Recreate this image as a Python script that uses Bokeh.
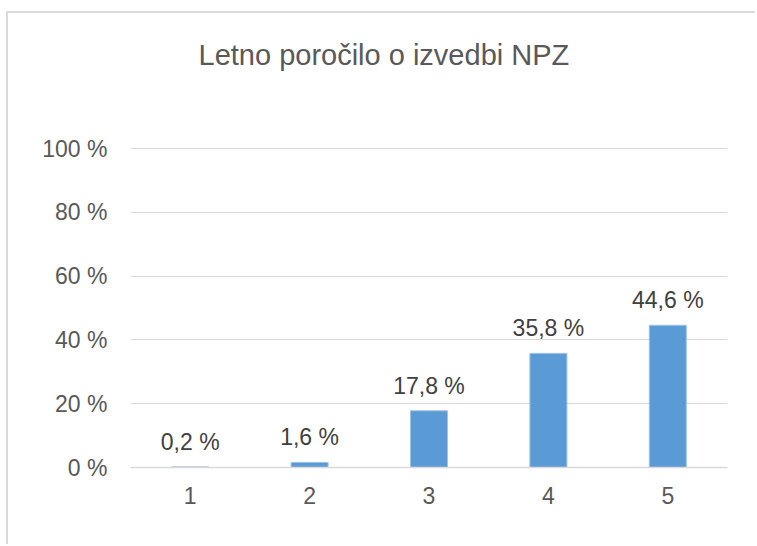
from bokeh.plotting import figure
from bokeh.models import ColumnDataSource, FactorRange, Range1d, FixedTicker, LabelSet, Title
from bokeh.core.properties import value
from bokeh.embed import file_html
from bokeh.resources import INLINE

title_text = "Letno poročilo o izvedbi NPZ"
categories = ["1", "2", "3", "4", "5"]
values = [0.2, 1.6, 17.8, 35.8, 44.6]
y_ticks = [0, 20, 40, 60, 80, 100]
y_tick_labels = ["0 %", "20 %", "40 %", "60 %", "80 %", "100 %"]

labels = [("%.1f" % v).replace(".", ",") + " %" for v in values]
src = ColumnDataSource(dict(x=categories, y=values, lab=labels))

FONT = "Liberation Sans"
GRID = "#d9d9d9"

p = figure(width=749, height=533, output_backend="svg", toolbar_location=None,
           x_range=FactorRange(*categories, range_padding=0), y_range=Range1d(0, 101),
           min_border_left=122, min_border_right=30, min_border_top=132, min_border_bottom=79,
           title=None)
p.outline_line_color = None
p.background_fill_color = "white"
p.border_fill_color = "white"

title = Title(text=title_text, text_font=FONT, text_font_size="29px", text_font_style="normal",
              text_color="#595959", align="left", offset=68)
spacer = Title(text=" ", text_font=FONT, text_font_size="52px")
p.above = [spacer, title]

p.vbar(x="x", top="y", width=0.31, source=src, fill_color="#5b9bd5", line_color="#9dc3e6", line_width=1)

p.add_layout(LabelSet(x="x", y="y", text="lab", source=src, text_align="center",
                      text_baseline="alphabetic", y_offset=17, text_font=value(FONT),
                      text_font_size=value("23px"), text_color=value("#404040")))

p.xgrid.grid_line_color = None
p.ygrid.grid_line_color = GRID
p.ygrid.grid_line_width = 1
p.ygrid.ticker = FixedTicker(ticks=y_ticks)

p.yaxis.ticker = FixedTicker(ticks=y_ticks)
p.yaxis.major_label_overrides = {t: l for t, l in zip(y_ticks, y_tick_labels)}
p.yaxis.axis_line_color = None
p.yaxis.major_tick_line_color = None
p.yaxis.minor_tick_line_color = None
p.yaxis.major_label_standoff = 17
p.yaxis.major_label_text_font = FONT
p.yaxis.major_label_text_font_size = "23px"
p.yaxis.major_label_text_color = "#595959"

p.xaxis.axis_line_color = GRID
p.xaxis.axis_line_width = 1.5
p.xaxis.major_tick_line_color = None
p.xaxis.minor_tick_line_color = None
p.xaxis.major_label_standoff = 13
p.xaxis.major_label_text_font = FONT
p.xaxis.major_label_text_font_size = "23px"
p.xaxis.major_label_text_color = "#595959"

p.styles = {"border-left": "2px solid #d9d9d9", "border-top": "2px solid #d9d9d9",
            "margin-left": "6px", "margin-top": "11px"}

open("out.html", "w").write(file_html(p, INLINE))
